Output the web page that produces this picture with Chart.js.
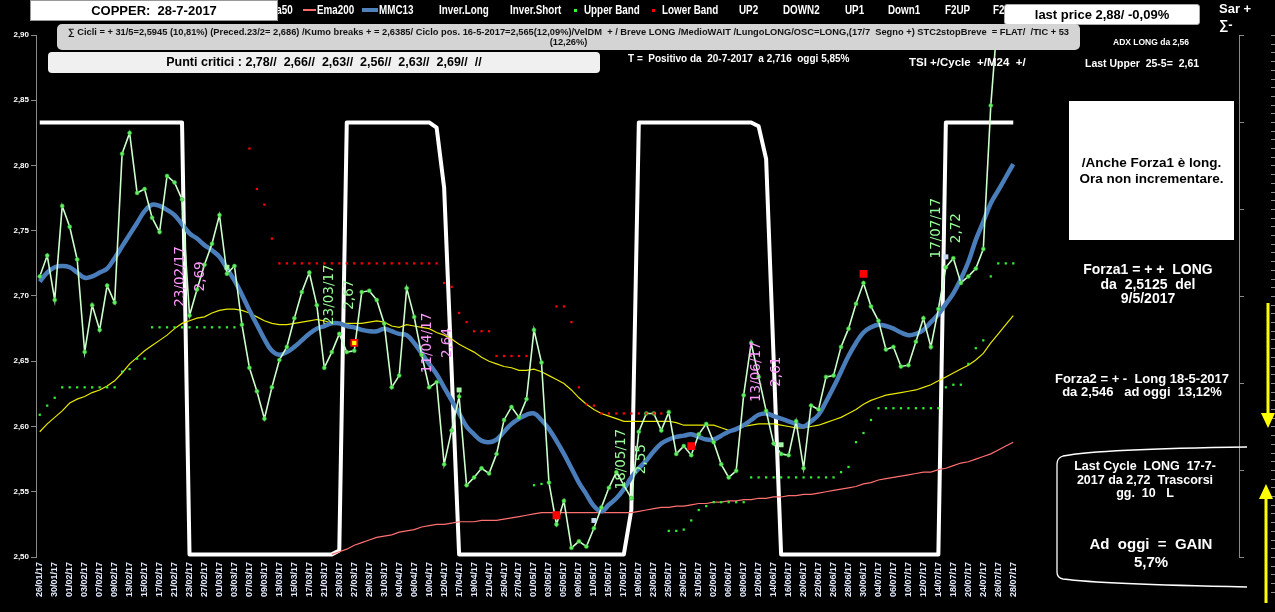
<!DOCTYPE html>
<html>
<head>
<meta charset="utf-8">
<title>COPPER 28-7-2017</title>
<script src="https://cdn.jsdelivr.net/npm/chart.js@4.4.0/dist/chart.umd.min.js"></script>
<style>
  html, body { margin: 0; padding: 0; background: #000; }
  #wrap { position: relative; width: 1275px; height: 612px; overflow: hidden; background: #000; }
  #c, #deco { position: absolute; left: 0; top: 0; }
  .t { position: absolute; white-space: nowrap; font-family: "Liberation Sans", Arial, sans-serif; font-weight: bold; color: #fff; }
  .c { text-align: center; }
  .lg { top: 3px; font-size: 12px; line-height: 14px; transform: scaleX(0.82); transform-origin: 0 0; }
  .lgr { transform-origin: 100% 0; }
  .sw { position: absolute; }
  .box { position: absolute; box-sizing: border-box; }
</style>
</head>
<body>
<div id="wrap">
  <canvas id="c" width="1275" height="612"></canvas>
  <svg id="deco" width="1275" height="612"></svg>

  <!-- legend row -->
  <div class="t lg lgr" style="right:982px">Ema50</div>
  <div class="sw" style="left:303px;top:9px;width:13px;height:2px;background:#ff6b6b"></div>
  <div class="t lg" style="left:317px">Ema200</div>
  <div class="sw" style="left:362px;top:8px;width:16px;height:4px;background:#4f81bd"></div>
  <div class="t lg" style="left:379px">MMC13</div>
  <div class="t lg" style="left:439px">Inver.Long</div>
  <div class="t lg" style="left:510px">Inver.Short</div>
  <div class="sw" style="left:574px;top:9px;width:3px;height:3px;background:#33ff33"></div>
  <div class="t lg" style="left:584px">Upper Band</div>
  <div class="sw" style="left:652px;top:9px;width:3px;height:3px;background:#ff0000"></div>
  <div class="t lg" style="left:662px">Lower Band</div>
  <div class="t lg" style="left:739px">UP2</div>
  <div class="t lg" style="left:783px">DOWN2</div>
  <div class="t lg" style="left:845px">UP1</div>
  <div class="t lg" style="left:888px">Down1</div>
  <div class="t lg" style="left:945px">F2UP</div>
  <div class="t lg" style="left:993px">F2DOWN</div>

  <div class="box" style="left:30px;top:0;width:248px;height:21px;background:#fff;border:1px solid #999"></div>
  <div class="t c" style="left:30px;top:0;width:248px;line-height:21px;font-size:13px;color:#000">COPPER:&nbsp; 28-7-2017</div>

  <div class="box" style="left:1004px;top:4px;width:196px;height:21px;background:#fff;border-radius:3px;border:1px solid #aaa"></div>
  <div class="t c" style="left:1004px;top:4px;width:196px;line-height:21px;font-size:13px;color:#000">last price 2,88/ -0,09%</div>

  <div class="t" style="left:1219px;top:2px;font-size:13px;line-height:14px">Sar +</div>
  <div class="t" style="left:1219px;top:18px;font-size:13px;line-height:14px">&sum;-</div>

  <div class="box" style="left:57px;top:24px;width:1023px;height:26px;background:#d4d4d4;border-radius:5px"></div>
  <div class="t c" style="left:57px;top:28px;width:1023px;font-size:9.3px;line-height:9.5px;color:#111">&sum; Cicli = + 31/5=2,5945 (10,81%) (Preced.23/2= 2,686) /Kumo breaks + = 2,6385/ Ciclo pos. 16-5-2017=2,565(12,09%)/VelDM&nbsp; + / Breve LONG /MedioWAIT /LungoLONG/OSC=LONG,(17/7&nbsp; Segno +) STC2stopBreve&nbsp; = FLAT/&nbsp; /TIC + 53<br>(12,26%)</div>

  <div class="box" style="left:48px;top:52px;width:552px;height:21px;background:#f0f0f0;border-radius:4px"></div>
  <div class="t c" style="left:48px;top:52px;width:552px;line-height:21px;font-size:12.5px;color:#000">Punti critici : 2,78//&nbsp; 2,66//&nbsp; 2,63//&nbsp; 2,56//&nbsp; 2,63//&nbsp; 2,69//&nbsp; //</div>

  <div class="t" style="left:628px;top:53px;font-size:10px;line-height:12px">T =&nbsp; Positivo da&nbsp; 20-7-2017&nbsp; a 2,716&nbsp; oggi 5,85%</div>
  <div class="t" style="left:909px;top:55px;font-size:11.5px;line-height:14px">TSI +/Cycle&nbsp; +/M24&nbsp; +/</div>
  <div class="t" style="left:1113px;top:36px;font-size:8.5px;line-height:12px">ADX LONG da 2,56</div>
  <div class="t" style="left:1085px;top:57px;font-size:10.5px;line-height:12px">Last Upper&nbsp; 25-5=&nbsp; 2,61</div>

  <!-- right panel -->
  <div class="box" style="left:1069px;top:101px;width:165px;height:139px;background:#fff"></div>
  <div class="t c" style="left:1069px;top:155px;width:165px;font-size:13.5px;line-height:16px;color:#000">/Anche Forza1 è long.<br>Ora non incrementare.</div>
  <div class="t c" style="left:1058px;top:262px;width:180px;font-size:14px;line-height:14.5px">Forza1 = + +&nbsp; LONG<br>da&nbsp; 2,5125&nbsp; del<br>9/5/2017</div>
  <div class="t c" style="left:1032px;top:372px;width:220px;font-size:13px;line-height:13px">Forza2 = + -&nbsp; Long 18-5-2017<br>da 2,546&nbsp;&nbsp; ad oggi&nbsp; 13,12%</div>
  <div class="t c" style="left:1055px;top:460px;width:180px;font-size:12.5px;line-height:13.5px">Last Cycle&nbsp; LONG&nbsp; 17-7-<br>2017 da 2,72&nbsp; Trascorsi<br>gg.&nbsp; 10&nbsp;&nbsp; L</div>
  <div class="t c" style="left:1066px;top:535px;width:170px;font-size:15px;line-height:18px">Ad&nbsp; oggi&nbsp; =&nbsp; GAIN<br>5,7%</div>
</div>

<script>
// trading days shown on the category axis (every other one is labelled)
const dates = [
  '26/01/17','27/01/17','30/01/17','31/01/17',
  '01/02/17','02/02/17','03/02/17','06/02/17','07/02/17','08/02/17','09/02/17','10/02/17','13/02/17','14/02/17',
  '15/02/17','16/02/17','17/02/17','20/02/17','21/02/17','22/02/17','23/02/17','24/02/17','27/02/17','28/02/17',
  '01/03/17','02/03/17','03/03/17','06/03/17','07/03/17','08/03/17','09/03/17','10/03/17','13/03/17','14/03/17',
  '15/03/17','16/03/17','17/03/17','20/03/17','21/03/17','22/03/17','23/03/17','24/03/17','27/03/17','28/03/17',
  '29/03/17','30/03/17','31/03/17',
  '03/04/17','04/04/17','05/04/17','06/04/17','07/04/17','10/04/17','11/04/17','12/04/17','13/04/17','17/04/17',
  '18/04/17','19/04/17','20/04/17','21/04/17','24/04/17','25/04/17','26/04/17','27/04/17','28/04/17',
  '01/05/17','02/05/17','03/05/17','04/05/17','05/05/17','08/05/17','09/05/17','10/05/17','11/05/17','12/05/17',
  '15/05/17','16/05/17','17/05/17','18/05/17','19/05/17','22/05/17','23/05/17','24/05/17','25/05/17','26/05/17',
  '29/05/17','30/05/17','31/05/17',
  '01/06/17','02/06/17','05/06/17','06/06/17','07/06/17','08/06/17','09/06/17','12/06/17','13/06/17','14/06/17',
  '15/06/17','16/06/17','19/06/17','20/06/17','21/06/17','22/06/17','23/06/17','26/06/17','27/06/17','28/06/17',
  '29/06/17','30/06/17',
  '03/07/17','04/07/17','05/07/17','06/07/17','07/07/17','10/07/17','11/07/17','12/07/17','13/07/17','14/07/17',
  '17/07/17','18/07/17','19/07/17','20/07/17','21/07/17','24/07/17','25/07/17','26/07/17','27/07/17','28/07/17'
];

const price = [
  2.715, 2.731, 2.697, 2.769, 2.753, 2.728, 2.657, 2.693, 2.674, 2.708,
  2.695, 2.809, 2.825, 2.779, 2.782, 2.760, 2.749, 2.792, 2.787, 2.774,
  2.685, 2.705, 2.724, 2.740, 2.762, 2.717, 2.723, 2.678, 2.645, 2.627,
  2.606, 2.630, 2.651, 2.661, 2.683, 2.703, 2.718, 2.693, 2.645, 2.657,
  2.671, 2.657, 2.658, 2.703, 2.704, 2.697, 2.679, 2.630, 2.639, 2.706,
  2.684, 2.655, 2.630, 2.634, 2.571, 2.597, 2.623, 2.555, 2.561, 2.568,
  2.564, 2.579, 2.605, 2.615, 2.607, 2.621, 2.674, 2.649, 2.557, 2.525,
  2.543, 2.507, 2.512, 2.508, 2.522, 2.538, 2.553, 2.565, 2.555, 2.545,
  2.596, 2.610, 2.610, 2.597, 2.611, 2.579, 2.585, 2.578, 2.594, 2.602,
  2.588, 2.571, 2.561, 2.566, 2.624, 2.664, 2.638, 2.612, 2.587, 2.579,
  2.578, 2.604, 2.568, 2.616, 2.613, 2.638, 2.639, 2.661, 2.675, 2.694,
  2.710, 2.692, 2.681, 2.659, 2.661, 2.646, 2.647, 2.665, 2.683, 2.661,
  2.690, 2.722, 2.729, 2.710, 2.715, 2.721, 2.736, 2.846, 2.920, 2.930,
  2.940
];

const mmc13 = [
  2.711, 2.718, 2.722, 2.723, 2.722, 2.718, 2.714, 2.715, 2.718, 2.721,
  2.729, 2.738, 2.747, 2.756, 2.765, 2.770, 2.769, 2.766, 2.762, 2.755,
  2.748, 2.744, 2.739, 2.735, 2.730, 2.721, 2.712, 2.701, 2.689, 2.678,
  2.667, 2.658, 2.655, 2.657, 2.661, 2.666, 2.671, 2.675, 2.677, 2.679,
  2.679, 2.677, 2.676, 2.674, 2.673, 2.673, 2.675, 2.673, 2.671, 2.670,
  2.664, 2.656, 2.648, 2.640, 2.630, 2.620, 2.610, 2.600, 2.594, 2.589,
  2.588, 2.590, 2.596, 2.602, 2.606, 2.609, 2.610, 2.605, 2.598, 2.589,
  2.579, 2.568, 2.557, 2.548, 2.539, 2.535, 2.540, 2.545, 2.552, 2.561,
  2.568, 2.574, 2.581, 2.587, 2.590, 2.592, 2.593, 2.594, 2.592, 2.590,
  2.590, 2.593, 2.596, 2.598, 2.601, 2.605, 2.609, 2.610, 2.608, 2.606,
  2.604, 2.602, 2.600, 2.604, 2.609, 2.619, 2.630, 2.642, 2.654, 2.664,
  2.672, 2.676, 2.678, 2.677, 2.675, 2.672, 2.670, 2.671, 2.674, 2.680,
  2.686, 2.694, 2.702, 2.713, 2.726, 2.743, 2.757, 2.771, 2.781, 2.791,
  2.801
];

const ema50 = [
  2.596, 2.602, 2.607, 2.612, 2.618, 2.621, 2.623, 2.626, 2.628, 2.631,
  2.635, 2.641, 2.648, 2.653, 2.658, 2.662, 2.666, 2.670, 2.675, 2.679,
  2.681, 2.683, 2.684, 2.687, 2.689, 2.690, 2.690, 2.689, 2.687, 2.684,
  2.681, 2.679, 2.678, 2.678, 2.679, 2.680, 2.681, 2.682, 2.681, 2.679,
  2.679, 2.679, 2.679, 2.679, 2.680, 2.681, 2.680, 2.677, 2.676, 2.678,
  2.677, 2.676, 2.675, 2.672, 2.670, 2.667, 2.663, 2.660, 2.657, 2.653,
  2.650, 2.648, 2.646, 2.645, 2.643, 2.643, 2.644, 2.642, 2.639, 2.636,
  2.633, 2.628, 2.622, 2.617, 2.613, 2.610, 2.608, 2.606, 2.604, 2.604,
  2.604, 2.604, 2.604, 2.604, 2.604, 2.603, 2.601, 2.601, 2.601, 2.601,
  2.601, 2.599, 2.597, 2.598, 2.600, 2.601, 2.602, 2.602, 2.602, 2.601,
  2.600, 2.599, 2.599, 2.600, 2.601, 2.603, 2.605, 2.607, 2.610, 2.613,
  2.617, 2.620, 2.622, 2.624, 2.625, 2.626, 2.627, 2.628, 2.630, 2.632,
  2.635, 2.638, 2.641, 2.644, 2.647, 2.651, 2.656, 2.664, 2.671, 2.678,
  2.685
];

// Ema200 only exists from 22/03/17
const ema200Start = '22/03/17';
const ema200 = [
  2.502,
  2.504, 2.506, 2.509, 2.511, 2.513, 2.515, 2.516, 2.517, 2.519, 2.520,
  2.521, 2.523, 2.524, 2.525, 2.525, 2.526, 2.527, 2.527, 2.527, 2.528,
  2.528, 2.528, 2.529, 2.530, 2.531, 2.532, 2.533, 2.534, 2.534, 2.534,
  2.534, 2.534, 2.534, 2.534, 2.534, 2.534, 2.534, 2.534, 2.534, 2.534,
  2.535, 2.536, 2.537, 2.538, 2.538, 2.539, 2.539, 2.540, 2.541, 2.541,
  2.542, 2.542, 2.543, 2.543, 2.544, 2.544, 2.545, 2.545, 2.546, 2.546,
  2.547, 2.547, 2.548, 2.548, 2.549, 2.550, 2.551, 2.552, 2.553, 2.554,
  2.556, 2.557, 2.559, 2.560, 2.561, 2.562, 2.563, 2.564, 2.565, 2.565,
  2.567, 2.568, 2.570, 2.572, 2.573, 2.575, 2.577, 2.579, 2.582, 2.585,
  2.588
];

// Inver.Long / Inver.Short cycle line
const inversion = [
  2.833, 2.833, 2.833, 2.833, 2.833, 2.833, 2.833, 2.833, 2.833, 2.833,
  2.833, 2.833, 2.833, 2.833, 2.833, 2.833, 2.833, 2.833, 2.833, 2.833,
  2.502, 2.502, 2.502, 2.502, 2.502, 2.502, 2.502, 2.502, 2.502, 2.502,
  2.502, 2.502, 2.502, 2.502, 2.502, 2.502, 2.502, 2.502, 2.502, 2.502,
  2.505, 2.833, 2.833, 2.833, 2.833, 2.833, 2.833, 2.833, 2.833, 2.833,
  2.833, 2.833, 2.833, 2.829, 2.783, 2.643, 2.502, 2.502, 2.502, 2.502,
  2.502, 2.502, 2.502, 2.502, 2.502, 2.502, 2.502, 2.502, 2.502, 2.502,
  2.502, 2.502, 2.502, 2.502, 2.502, 2.502, 2.502, 2.502, 2.502, 2.536,
  2.833, 2.833, 2.833, 2.833, 2.833, 2.833, 2.833, 2.833, 2.833, 2.833,
  2.833, 2.833, 2.833, 2.833, 2.833, 2.833, 2.830, 2.805, 2.652, 2.502,
  2.502, 2.502, 2.502, 2.502, 2.502, 2.502, 2.502, 2.502, 2.502, 2.502,
  2.502, 2.502, 2.502, 2.502, 2.502, 2.502, 2.502, 2.502, 2.502, 2.502,
  2.502, 2.833, 2.833, 2.833, 2.833, 2.833, 2.833, 2.833, 2.833, 2.833,
  2.833
];

const upperBand = [
  2.609, 2.616, 2.622, 2.630, 2.630, 2.630, 2.630, 2.630, 2.630, 2.630,
  2.630, 2.642, 2.644, 2.652, 2.652, 2.676, 2.676, 2.676, 2.676, 2.676,
  2.676, 2.676, 2.676, 2.676, 2.676, 2.676, 2.676, null, null, null,
  null, null, null, null, null, null, null, null, null, null,
  null, null, null, null, null, null, null, null, null, null,
  null, null, null, null, null, null, null, null, null, null,
  null, null, null, null, null, null, 2.555, 2.556, null, null,
  null, null, null, null, null, null, null, null, null, null,
  null, null, null, null, 2.520, 2.520, 2.521, 2.528, 2.536, 2.539,
  2.542, 2.542, 2.542, 2.542, 2.542, 2.561, 2.561, 2.561, 2.561, 2.561,
  2.561, 2.561, 2.561, 2.561, 2.561, 2.561, 2.561, 2.565, 2.569, 2.588,
  2.595, 2.605, 2.614, 2.614, 2.614, 2.614, 2.614, 2.614, 2.614, 2.614,
  2.614, 2.630, 2.632, 2.632, 2.648, 2.660, 2.666, 2.715, 2.725, 2.725,
  2.725
];

const lowerBand = [
  null, null, null, null, null, null, null, null, null, null,
  null, null, null, null, null, null, null, null, null, null,
  null, null, null, null, null, null, null, null, 2.813, 2.782,
  2.770, 2.744, 2.725, 2.725, 2.725, 2.725, 2.725, 2.725, 2.725, 2.725,
  2.725, 2.725, 2.725, 2.725, 2.725, 2.725, 2.725, 2.725, 2.725, 2.725,
  2.725, 2.725, 2.725, 2.725, 2.710, 2.707, 2.687, 2.680, 2.673, 2.673,
  2.673, 2.654, 2.654, 2.654, 2.654, 2.654, null, null, null, 2.692,
  2.692, 2.680, 2.630, 2.617, 2.616, 2.610, 2.610, 2.610, 2.610, 2.610,
  2.610, 2.610, 2.610, 2.610, null, null, null, null, null, null,
  null, null, null, null, null, null, null, null, null, null,
  null, null, null, null, null, null, null, null, null, null,
  null, null, null, null, null, null, null, null, null, null,
  null, null, null, null, null, null, null, null, null, null,
  null
];

// signal markers
const redMarkDates = ['27/03/17', '04/05/17', '30/05/17', '30/06/17'];
const redMarkValues = [2.664, 2.532, 2.585, 2.717];
const yellowMarkDates = ['27/03/17'];
const yellowMarkValues = [2.664];
const blueMarkDates = ['11/05/17', '17/07/17'];
const blueMarkValues = [2.528, 2.730];
const greenMarkDates = ['02/03/17', '17/04/17', '15/06/17'];
const greenMarkValues = [2.722, 2.628, 2.586];

// cycle inversion notes written vertically on the chart
const noteDates = ['23/02/17', '23/03/17', '11/04/17', '18/05/17', '13/06/17', '17/07/17'];
const noteValues = ['2,69', '2,67', '2,64', '2,55', '2,61', '2,72'];
const noteKinds = ['short', 'long', 'short', 'long', 'short', 'long'];

const yTicks = [2.50, 2.55, 2.60, 2.65, 2.70, 2.75, 2.80, 2.85, 2.90];

function points(ds, vs) {
  return ds.map((d, k) => ({ x: d, y: vs[k] }));
}

const notesPlugin = {
  id: 'notes',
  afterDatasetsDraw(chart) {
    const ctx = chart.ctx;
    const xs = chart.scales.x, ys = chart.scales.y;
    ctx.save();
    ctx.font = '13.5px "DejaVu Sans", sans-serif';
    ctx.textAlign = 'center';
    ctx.textBaseline = 'middle';
    noteDates.forEach((d, k) => {
      const i = dates.indexOf(d);
      const px = xs.getPixelForValue(i);
      const py = ys.getPixelForValue(price[i] + 0.03);
      ctx.fillStyle = noteKinds[k] === 'long' ? '#99ff99' : '#ff99ff';
      [[d, -9.5], [noteValues[k], 10.5]].forEach(([txt, dx]) => {
        ctx.save();
        ctx.translate(px + dx, py);
        ctx.rotate(-Math.PI / 2);
        ctx.fillText(txt, 0, 0);
        ctx.restore();
      });
    });
    ctx.restore();
  }
};

const ema200Idx = dates.indexOf(ema200Start);

new Chart(document.getElementById('c'), {
  type: 'line',
  data: {
    labels: dates,
    datasets: [
      { label: 'Inver', data: inversion, borderColor: '#ffffff', borderWidth: 4, pointRadius: 0, borderJoinStyle: 'round', order: 20 },
      { label: 'Ema200', data: ema200.map((v, k) => ({ x: dates[ema200Idx + k], y: v })), borderColor: '#ff7070', borderWidth: 1.2, pointRadius: 0, order: 19 },
      { label: 'Ema50', data: ema50, borderColor: '#e8e800', borderWidth: 1.2, pointRadius: 0, order: 18 },
      { label: 'MMC13', data: mmc13, borderColor: '#4a7ebb', borderWidth: 4.5, pointRadius: 0, tension: 0.4, order: 17 },
      { label: 'Price', data: price, borderColor: '#ccffcc', borderWidth: 1.6, pointRadius: 2, pointBackgroundColor: '#66ee66', pointBorderColor: '#2fb82f', pointBorderWidth: 0.6, order: 16 },
      { label: 'Upper Band', data: upperBand, showLine: false, pointStyle: 'rect', pointRadius: 1.6, pointBackgroundColor: '#33ee33', pointBorderWidth: 0, order: 15 },
      { label: 'Lower Band', data: lowerBand, showLine: false, pointStyle: 'rect', pointRadius: 1.6, pointBackgroundColor: '#ff0000', pointBorderWidth: 0, order: 14 },
      { label: 'red', data: points(redMarkDates, redMarkValues), showLine: false, pointStyle: 'rect', pointRadius: 5.5, pointBackgroundColor: '#ff0000', pointBorderWidth: 0, order: 4 },
      { label: 'yellow', data: points(yellowMarkDates, yellowMarkValues), showLine: false, pointStyle: 'rect', pointRadius: 3, pointBackgroundColor: '#ffff00', pointBorderWidth: 0, order: 3 },
      { label: 'blue', data: points(blueMarkDates, blueMarkValues), showLine: false, pointStyle: 'rect', pointRadius: 3.5, pointBackgroundColor: '#c6d9f1', pointBorderWidth: 0, order: 2 },
      { label: 'green', data: points(greenMarkDates, greenMarkValues), showLine: false, pointStyle: 'rect', pointRadius: 3.5, pointBackgroundColor: '#a6f5a6', pointBorderWidth: 0, order: 1 }
    ]
  },
  options: {
    responsive: false,
    animation: false,
    devicePixelRatio: 1,
    layout: { padding: { top: 35, right: 258, bottom: 0, left: 0 } },
    plugins: { legend: { display: false }, tooltip: { enabled: false } },
    scales: {
      x: {
        offset: true,
        grid: { display: false, drawTicks: false },
        border: { display: false },
        afterFit: s => { s.height = 55; },
        ticks: {
          autoSkip: false,
          maxRotation: 90,
          minRotation: 90,
          padding: 5,
          color: '#e4ecff',
          font: { family: '"Liberation Sans", Arial, sans-serif', size: 9, weight: 'bold' },
          callback: function (v, i) { return i % 2 === 0 ? dates[i] : ''; }
        }
      },
      y: {
        min: 2.5,
        max: 2.9,
        afterFit: s => { s.width = 36; },
        afterBuildTicks: s => { s.ticks = yTicks.map(v => ({ value: v })); },
        grid: { drawOnChartArea: false, tickLength: 5, color: '#8a8a8a' },
        border: { display: true, color: '#8a8a8a' },
        ticks: {
          padding: 2,
          color: '#ffffff',
          font: { family: '"Liberation Sans", Arial, sans-serif', size: 8, weight: 'bold' },
          callback: v => v.toFixed(2).replace('.', ',')
        }
      }
    }
  },
  plugins: [notesPlugin]
});

// right-hand decorations: secondary axis, arrows, cycle bracket
const svg = document.getElementById('deco');
const NS = 'http://www.w3.org/2000/svg';
function el(name, attrs) {
  const e = document.createElementNS(NS, name);
  for (const k in attrs) e.setAttribute(k, attrs[k]);
  svg.appendChild(e);
  return e;
}
el('line', { x1: 1239.5, y1: 35, x2: 1239.5, y2: 557, stroke: '#8a8a8a', 'stroke-width': 1 });
for (let k = 0; k <= 6; k++) {
  const yy = 35 + k * 87 + 0.5;
  el('line', { x1: 1239, y1: yy, x2: 1244, y2: yy, stroke: '#8a8a8a', 'stroke-width': 1 });
}
for (let yy = 35; yy < 600; yy += 8.7) {
  el('line', { x1: 1271, y1: Math.round(yy) + 0.5, x2: 1275, y2: Math.round(yy) + 0.5, stroke: '#8a8a8a', 'stroke-width': 1 });
}
el('line', { x1: 1268, y1: 303, x2: 1268, y2: 418, stroke: '#ffff00', 'stroke-width': 3 });
el('polygon', { points: '1261,413 1275,413 1268,428', fill: '#ffff00' });
el('line', { x1: 1266, y1: 494, x2: 1266, y2: 603, stroke: '#ffff00', 'stroke-width': 3 });
el('polygon', { points: '1259,499 1273,499 1266,484', fill: '#ffff00' });
el('path', { d: 'M1247,447 Q1100,449 1063,456 Q1057,458 1057,464 L1057,572 Q1057,578 1063,579 Q1100,584 1247,587', stroke: '#ffffff', 'stroke-width': 1.3, fill: 'none' });
</script>
</body>
</html>
